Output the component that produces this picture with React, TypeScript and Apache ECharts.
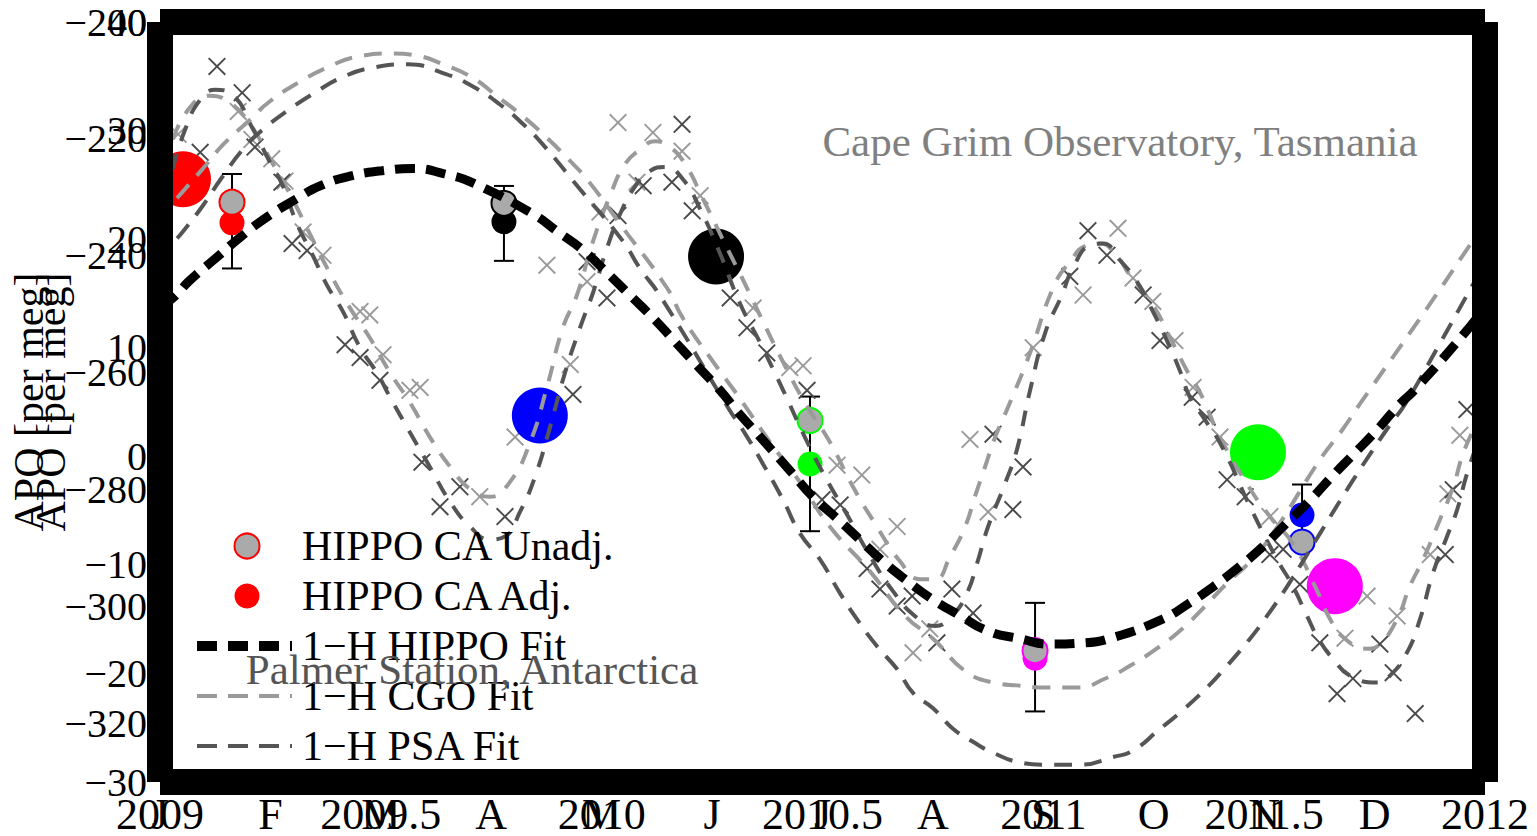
import React, { useEffect, useRef } from "react";
import * as echarts from "echarts";

const FONT = '"Liberation Serif", "Times New Roman", serif';

// ---------- Station panel (year axis, APO -330..-200) ----------
const cgoStationCurve: number[][] = [
  [2009.029, -220.1], [2009.068, -214.6], [2009.113, -212.6], [2009.158, -213.8], [2009.204, -217.5],
  [2009.249, -223.4], [2009.294, -229.4], [2009.339, -236.2], [2009.385, -243.0], [2009.43, -248.9],
  [2009.475, -254.0], [2009.521, -260.0], [2009.566, -265.1], [2009.611, -271.0], [2009.657, -276.1],
  [2009.702, -279.9], [2009.747, -281.2], [2009.792, -278.7], [2009.838, -271.9], [2009.876, -262.5],
  [2009.912, -252.3], [2009.944, -246.7], [2009.98, -237.6], [2010.019, -229.7], [2010.053, -224.3],
  [2010.087, -221.8], [2010.121, -220.4], [2010.155, -221.4], [2010.189, -224.3], [2010.229, -230.2],
  [2010.279, -237.9], [2010.329, -245.5], [2010.365, -251.2], [2010.415, -258.8], [2010.46, -265.1],
  [2010.517, -271.9], [2010.569, -279.5], [2010.619, -285.8], [2010.676, -292.3], [2010.721, -295.3],
  [2010.755, -295.3], [2010.789, -291.4], [2010.823, -286.3], [2010.845, -281.2], [2010.868, -276.1],
  [2010.891, -271.0], [2010.92, -265.9], [2010.97, -256.6], [2011.022, -245.5], [2011.06, -241.0],
  [2011.099, -238.2], [2011.128, -237.9], [2011.162, -239.6], [2011.196, -243.3], [2011.248, -248.4],
  [2011.287, -254.0], [2011.325, -259.6], [2011.355, -263.4], [2011.4, -271.0], [2011.461, -279.0],
  [2011.513, -284.6], [2011.565, -289.2], [2011.615, -296.5], [2011.649, -302.1], [2011.683, -305.5],
  [2011.733, -307.2], [2011.762, -306.4], [2011.801, -302.1], [2011.83, -296.5], [2011.86, -291.9],
  [2011.898, -285.1], [2011.928, -279.5], [2011.95, -273.9], [2011.977, -269.3],
];

const psaStationCurve: number[][] = [
  [2009.029, -225.1], [2009.057, -218.4], [2009.091, -213.3], [2009.125, -211.6], [2009.163, -212.4],
  [2009.211, -218.4], [2009.249, -224.0], [2009.278, -228.0], [2009.31, -234.5], [2009.344, -239.6],
  [2009.378, -245.0], [2009.414, -249.5], [2009.453, -255.7], [2009.491, -260.0], [2009.521, -264.2],
  [2009.566, -270.2], [2009.611, -276.1], [2009.657, -282.1], [2009.702, -286.3], [2009.747, -288.5],
  [2009.781, -288.0], [2009.815, -283.8], [2009.849, -277.8], [2009.883, -269.3], [2009.917, -260.0],
  [2009.951, -252.3], [2009.98, -246.4], [2010.012, -238.7], [2010.042, -232.8], [2010.075, -228.2],
  [2010.109, -225.5], [2010.143, -224.8], [2010.184, -226.9], [2010.223, -232.0], [2010.268, -239.6],
  [2010.313, -248.1], [2010.359, -254.9], [2010.411, -263.0], [2010.46, -271.0], [2010.506, -277.8],
  [2010.558, -284.6], [2010.608, -291.4], [2010.66, -297.4], [2010.709, -301.6], [2010.755, -303.3],
  [2010.793, -301.6], [2010.827, -297.7], [2010.85, -292.6], [2010.875, -286.3], [2010.913, -279.0],
  [2010.94, -273.2], [2010.97, -263.0], [2011.004, -253.2], [2011.042, -246.7], [2011.067, -242.1],
  [2011.106, -238.2], [2011.135, -237.9], [2011.174, -240.8], [2011.212, -244.4], [2011.248, -249.5],
  [2011.28, -254.5], [2011.309, -259.6], [2011.332, -264.2], [2011.362, -267.6], [2011.405, -272.7],
  [2011.468, -282.9], [2011.529, -291.9], [2011.565, -296.5], [2011.597, -301.6], [2011.626, -305.9],
  [2011.66, -309.3], [2011.694, -311.8], [2011.755, -313.0], [2011.785, -311.8], [2011.823, -307.9],
  [2011.853, -302.1], [2011.882, -294.3], [2011.914, -288.0], [2011.937, -283.4], [2011.959, -277.3],
  [2011.984, -271.9],
];

const cgoStationObs: number[][] = [
  [2009.041, -219.2], [2009.177, -215.3], [2009.208, -220.1], [2009.253, -223.4], [2009.283, -227.2],
  [2009.324, -235.9], [2009.369, -239.9], [2009.453, -249.5], [2009.475, -250.1], [2009.505, -256.9],
  [2009.566, -263.0], [2009.589, -262.5], [2009.724, -281.2], [2009.804, -271.0], [2009.876, -241.6],
  [2009.929, -258.6], [2009.967, -244.4], [2009.996, -232.5], [2010.037, -217.2], [2010.08, -227.4],
  [2010.116, -218.9], [2010.182, -222.1], [2010.223, -229.7], [2010.343, -248.9], [2010.426, -259.1],
  [2010.456, -258.8], [2010.533, -275.8], [2010.589, -277.5], [2010.63, -290.2], [2010.669, -286.3],
  [2010.705, -307.9], [2010.743, -303.8], [2010.834, -271.4], [2010.875, -283.8], [2010.977, -255.7],
  [2011.09, -246.7], [2011.169, -235.3], [2011.203, -243.8], [2011.248, -247.8], [2011.298, -254.5],
  [2011.339, -262.5], [2011.4, -271.0], [2011.513, -284.6], [2011.683, -305.4], [2011.733, -298.2],
  [2011.801, -301.6], [2011.876, -291.1], [2011.916, -280.7], [2011.943, -270.7],
];

const psaStationObs: number[][] = [
  [2009.091, -222.3], [2009.129, -207.6], [2009.186, -212.1], [2009.215, -221.4], [2009.276, -227.4],
  [2009.299, -237.9], [2009.333, -239.1], [2009.419, -255.2], [2009.453, -257.4], [2009.498, -261.3],
  [2009.593, -275.3], [2009.634, -282.9], [2009.679, -279.5], [2009.781, -284.6], [2009.935, -263.7],
  [2009.967, -241.0], [2010.012, -247.2], [2010.037, -233.1], [2010.094, -228.0], [2010.159, -227.4],
  [2010.182, -217.5], [2010.205, -232.3], [2010.291, -247.2], [2010.329, -252.3], [2010.374, -256.6],
  [2010.465, -263.0], [2010.499, -281.7], [2010.54, -282.6], [2010.601, -293.5], [2010.63, -297.0],
  [2010.669, -299.9], [2010.703, -298.2], [2010.759, -306.2], [2010.793, -297.0], [2010.841, -301.1],
  [2010.886, -270.5], [2010.931, -283.4], [2010.954, -276.1], [2011.06, -243.5], [2011.101, -235.7],
  [2011.144, -239.9], [2011.226, -246.7], [2011.264, -254.5], [2011.337, -264.2], [2011.371, -267.6],
  [2011.416, -278.3], [2011.457, -281.2], [2011.513, -291.1], [2011.543, -290.2], [2011.581, -296.2],
  [2011.626, -306.2], [2011.665, -314.9], [2011.701, -312.3], [2011.762, -306.4], [2011.792, -311.3],
  [2011.842, -318.3], [2011.91, -291.1], [2011.928, -280.0], [2011.959, -266.3],
];

// HIPPO campaign values at the stations (H1, H2, H3, H4, H5)
const stationHippoTime = [2009.052, 2009.86, 2010.259, 2011.486, 2011.66];
const stationHippoValue = [-226.9, -267.3, -240.1, -273.6, -296.5];

// ---------- Seasonal panel (month axis, APO -30..40) ----------
const MONTHS = ["J", "F", "M", "A", "M", "J", "J", "A", "S", "O", "N", "D"];

const hippoFit: number[][] = [
  [0, 13.7], [0.12, 14.6], [0.27, 16.2], [0.5, 18.2], [0.73, 20.2], [0.95, 21.9], [1.2, 23.5],
  [1.45, 24.9], [1.72, 25.8], [2.01, 26.3], [2.29, 26.5], [2.58, 26.0], [2.85, 25.1], [3.38, 22.3],
  [3.6, 20.7], [3.83, 19.0], [4.05, 16.9], [4.26, 14.8], [4.47, 12.7], [4.66, 10.6], [4.86, 8.4],
  [5.07, 6.1], [5.24, 4.0], [5.46, 1.5], [5.72, -1.5], [5.91, -3.7], [6.14, -5.8], [6.34, -7.7],
  [6.55, -9.7], [6.77, -11.5], [7.0, -13.2], [7.25, -14.7], [7.5, -16.1], [7.79, -16.8], [8.06, -17.3],
  [8.36, -17.2], [8.63, -16.7], [9.08, -15.0], [9.31, -13.6], [9.54, -12.0], [9.76, -10.3], [9.99, -8.3],
  [10.17, -6.5], [10.42, -4.0], [10.61, -1.9], [10.81, 0.2], [11.02, 2.4], [11.2, 4.5], [11.38, 6.3],
  [11.82, 11.4], [12, 13.7],
];

const cgoFit: number[][] = [
  [0, 21.5], [0.118, 23.3], [0.208, 24.4], [0.389, 26.5], [0.571, 28.7], [0.815, 31.0], [0.996, 32.7],
  [1.268, 34.5], [1.512, 35.8], [1.784, 36.8], [2.101, 37.1], [2.328, 36.9], [2.563, 36.1], [2.826, 34.9],
  [3.061, 33.1], [3.288, 31.3], [3.487, 29.5], [3.695, 27.4], [3.876, 25.4], [4.166, 21.4], [4.592, 15.5],
  [4.737, 12.7], [5.045, 8.2], [5.226, 5.7], [5.525, 1.3], [5.797, -2.4], [6.068, -6.5], [6.43, -10.6],
  [6.747, -14.7], [7.001, -16.8], [7.309, -19.9], [7.58, -20.9], [7.761, -21.1], [8.033, -21.3],
  [8.305, -21.3], [8.577, -20.4], [8.785, -19.3], [9.029, -17.7], [9.256, -15.9], [9.446, -14.0],
  [9.663, -11.7], [9.872, -9.7], [10.08, -7.1], [10.506, -0.3], [10.705, 2.4], [10.886, 5.1],
  [11.411, 12.7], [11.873, 19.6], [12, 21.5],
];

const psaFit: number[][] = [
  [0, 17.8], [0.118, 19.6], [0.208, 20.7], [0.389, 23.1], [0.562, 25.7], [0.77, 28.5], [0.933, 30.1],
  [1.15, 31.8], [1.404, 33.5], [1.648, 34.9], [1.929, 35.8], [2.246, 36.1], [2.563, 35.3], [2.826, 34.1],
  [3.079, 32.4], [3.288, 30.6], [3.469, 28.7], [3.804, 24.6], [4.193, 19.8], [4.347, 17.3], [4.528, 14.8],
  [5.162, 4.2], [5.28, 2.4], [5.461, -0.7], [5.642, -4.0], [5.796, -7.1], [5.977, -9.5], [6.158, -12.6],
  [6.312, -15.0], [6.494, -17.5], [6.675, -19.6], [6.82, -21.8], [7.001, -23.2], [7.182, -25.1],
  [7.363, -26.3], [7.544, -27.3], [7.789, -28.2], [7.997, -28.4], [8.332, -28.4], [8.631, -27.7],
  [8.812, -27.1], [9.057, -25.1], [9.238, -23.6], [9.482, -21.3], [9.663, -19.3], [9.872, -16.8],
  [10.026, -14.7], [10.207, -12.0], [10.506, -7.1], [10.669, -4.4], [10.805, -2.2], [10.959, 0.2],
  [11.14, 2.9], [11.276, 4.8], [11.592, 10.4], [11.873, 15.5], [12, 17.8],
];

// HIPPO campaigns ordered by month: H1, H3, H4, H5, H2
const hippoMonth = [0.652, 3.115, 5.887, 7.925, 10.343];
const hippoUnadj = [23.4, 23.3, 3.3, -17.9, -7.9];
const hippoAdj = [21.5, 21.6, -0.7, -18.6, -5.4];
const hippoErrLow = [17.3, 18.0, -6.9, -23.5, -8.2];
const hippoErrHigh = [26.0, 24.9, 5.5, -13.5, -2.6];

// styles
const seasonalColors = ["#ff0000", "#000000", "#00ff00", "#ff00ff", "#0000ff"];
const stationColors = ["#ff0000", "#0000ff", "#000000", "#00ff00", "#ff00ff"];

const CROSS =
  "path://M0,1.5L1.5,0L10,8.5L18.5,0L20,1.5L11.5,10L20,18.5L18.5,20L10,11.5L1.5,20L0,18.5L8.5,10Z";
const DASH_THICK =
  "path://M0,0L20,0L20,10L0,10Z M31,0L51,0L51,10L31,10Z M62,0L82,0L82,10L62,10Z M93,0L95,0L95,10L93,10Z M0,0L0,0L100,0L100,0Z";
const DASH_THIN =
  "path://M0,0L20,0L20,4L0,4Z M31,0L51,0L51,4L31,4Z M62,0L82,0L82,4L62,4Z M93,0L95,0L95,4L93,4Z M0,0L0,0L100,0L100,0Z";

const fmtNum = (v: number) => (v < 0 ? "\u2212" + Math.abs(v) : String(v));

export default function App() {
  const ref = useRef<HTMLDivElement>(null);

  useEffect(() => {
    const chart = echarts.init(ref.current!, null, { renderer: "svg" });
    const frameLine = { show: true, onZero: false, lineStyle: { color: "#000", width: 26, cap: "butt" } };
    const labelBase = { fontFamily: FONT, color: "#000" };

    const option: any = {
      animation: false,
      backgroundColor: "#fff",
      grid: { left: 160, top: 22, right: 52, bottom: 49, containLabel: false },
      xAxis: [
        {
          type: "value", min: 2009, max: 2012, interval: 0.5, position: "bottom", z: 10,
          axisLine: frameLine, axisTick: { show: false }, splitLine: { show: false },
          axisLabel: { ...labelBase, fontSize: 44, margin: 10, formatter: (v: number) => String(v) },
        },
        {
          type: "value", min: 0, max: 12, interval: 1, position: "bottom", z: 10,
          axisLine: { show: false, onZero: false }, axisTick: { show: false }, splitLine: { show: false },
          axisLabel: {
            ...labelBase, fontSize: 44, margin: 10,
            formatter: (v: number) => MONTHS[Math.round(v)] ?? "",
          },
        },
        {
          type: "value", min: 0, max: 1, position: "top", z: 10,
          axisLine: frameLine, axisTick: { show: false }, splitLine: { show: false },
          axisLabel: { show: false },
        },
      ],
      yAxis: [
        {
          type: "value", min: -330, max: -200, interval: 10, position: "left", z: 10,
          axisLine: frameLine, axisTick: { show: false }, splitLine: { show: false },
          axisLabel: {
            ...labelBase, fontSize: 40, margin: 13,
            formatter: (v: number) => (Math.round(v) % 20 === 0 ? fmtNum(Math.round(v)) : ""),
          },
          name: "APO [per meg]", nameLocation: "middle", nameGap: 110,
          nameTextStyle: { ...labelBase, fontSize: 42 },
        },
        {
          type: "value", min: -30, max: 40, interval: 10, position: "left", z: 10,
          axisLine: { show: false, onZero: false }, axisTick: { show: false }, splitLine: { show: false },
          axisLabel: { ...labelBase, fontSize: 40, margin: 13, formatter: (v: number) => fmtNum(Math.round(v)) },
          name: "APO [per meg]", nameLocation: "middle", nameGap: 88,
          nameTextStyle: { ...labelBase, fontSize: 42 },
        },
        {
          type: "value", min: 0, max: 1, position: "right", z: 10,
          axisLine: frameLine, axisTick: { show: false }, splitLine: { show: false },
          axisLabel: { show: false },
        },
      ],
      legend: {
        data: [
          { name: "HIPPO CA Unadj." },
          { name: "HIPPO CA Adj." },
          { name: "1\u2212H HIPPO Fit", icon: DASH_THICK },
          { name: "1\u2212H CGO Fit", icon: DASH_THIN },
          { name: "1\u2212H PSA Fit", icon: DASH_THIN },
        ],
        orient: "vertical", left: 192, top: 520, itemWidth: 100, itemHeight: 25, itemGap: 8,
        selectedMode: false, symbolKeepAspect: true,
        textStyle: { ...labelBase, fontSize: 42, lineHeight: 42 },
      },
      graphic: [
        {
          type: "text", x: 1120, y: 141, z: 5,
          style: { text: "Cape Grim Observatory, Tasmania", fill: "#808080", fontSize: 43, fontFamily: FONT, align: "center", verticalAlign: "middle" },
        },
        {
          type: "text", x: 472, y: 669, z: 5,
          style: { text: "Palmer Station, Antarctica", fill: "#555555", fontSize: 43, fontFamily: FONT, align: "center", verticalAlign: "middle" },
        },
      ],
      series: [
        {
          name: "CGO station fit", type: "line", xAxisIndex: 0, yAxisIndex: 0, data: cgoStationCurve,
          smooth: true, symbol: "none", silent: true,
          lineStyle: { color: "#9a9a9a", width: 4, type: [16, 13] },
        },
        {
          name: "PSA station fit", type: "line", xAxisIndex: 0, yAxisIndex: 0, data: psaStationCurve,
          smooth: true, symbol: "none", silent: true,
          lineStyle: { color: "#555555", width: 4, type: [16, 13] },
        },
        {
          name: "CGO obs", type: "scatter", xAxisIndex: 0, yAxisIndex: 0, data: cgoStationObs,
          symbol: CROSS, symbolSize: 18, silent: true, itemStyle: { color: "#9a9a9a", opacity: 1 },
        },
        {
          name: "PSA obs", type: "scatter", xAxisIndex: 0, yAxisIndex: 0, data: psaStationObs,
          symbol: CROSS, symbolSize: 18, silent: true, itemStyle: { color: "#4a4a4a", opacity: 1 },
        },
        {
          name: "HIPPO at stations", type: "scatter", xAxisIndex: 0, yAxisIndex: 0, symbolSize: 56, silent: true,
          itemStyle: { opacity: 1 },
          data: stationHippoTime.map((t, i) => ({
            value: [t, stationHippoValue[i]],
            itemStyle: { color: stationColors[i], opacity: 1 },
          })),
        },
        {
          name: "1\u2212H CGO Fit", type: "line", xAxisIndex: 1, yAxisIndex: 1, data: cgoFit,
          smooth: true, symbol: "none", silent: true,
          lineStyle: { color: "#9a9a9a", width: 4, type: [18, 12] },
          itemStyle: { color: "#9a9a9a" },
        },
        {
          name: "1\u2212H PSA Fit", type: "line", xAxisIndex: 1, yAxisIndex: 1, data: psaFit,
          smooth: true, symbol: "none", silent: true,
          lineStyle: { color: "#555555", width: 4, type: [18, 12] },
          itemStyle: { color: "#555555" },
        },
        {
          name: "1\u2212H HIPPO Fit", type: "line", xAxisIndex: 1, yAxisIndex: 1, data: hippoFit,
          smooth: true, symbol: "none", silent: true,
          lineStyle: { color: "#000000", width: 9, type: [20, 11] },
          itemStyle: { color: "#000000" },
        },
        {
          name: "HIPPO error", type: "custom", xAxisIndex: 1, yAxisIndex: 1, silent: true,
          data: hippoMonth.map((m, i) => [m, hippoErrLow[i], hippoErrHigh[i]]),
          encode: { x: 0, y: [1, 2] },
          renderItem: (params: any, api: any) => {
            const m = api.value(0);
            const lo = api.coord([m, api.value(1)]);
            const hi = api.coord([m, api.value(2)]);
            const w = 10;
            const st = { stroke: "#000", lineWidth: 2 };
            return {
              type: "group",
              children: [
                { type: "line", shape: { x1: hi[0], y1: hi[1], x2: lo[0], y2: lo[1] }, style: st },
                { type: "line", shape: { x1: hi[0] - w, y1: hi[1], x2: hi[0] + w, y2: hi[1] }, style: st },
                { type: "line", shape: { x1: lo[0] - w, y1: lo[1], x2: lo[0] + w, y2: lo[1] }, style: st },
              ],
            };
          },
        },
        {
          name: "HIPPO CA Adj.", type: "scatter", xAxisIndex: 1, yAxisIndex: 1, symbolSize: 25, silent: true,
          itemStyle: { color: "#ff0000", opacity: 1 },
          data: hippoMonth.map((m, i) => ({ value: [m, hippoAdj[i]], itemStyle: { color: seasonalColors[i], opacity: 1 } })),
        },
        {
          name: "HIPPO CA Unadj.", type: "scatter", xAxisIndex: 1, yAxisIndex: 1, symbolSize: 25, silent: true,
          itemStyle: { color: "#aaaaaa", borderColor: "#ff0000", borderWidth: 2, opacity: 1 },
          data: hippoMonth.map((m, i) => ({
            value: [m, hippoUnadj[i]],
            itemStyle: { color: "#aaaaaa", borderColor: seasonalColors[i], borderWidth: 2, opacity: 1 },
          })),
        },
      ],
    };

    chart.setOption(option);
    return () => chart.dispose();
  }, []);

  return (
    <div
      ref={ref}
      style={{ position: "fixed", left: 0, top: 0, width: 1537, height: 836, background: "#fff" }}
    />
  );
}
